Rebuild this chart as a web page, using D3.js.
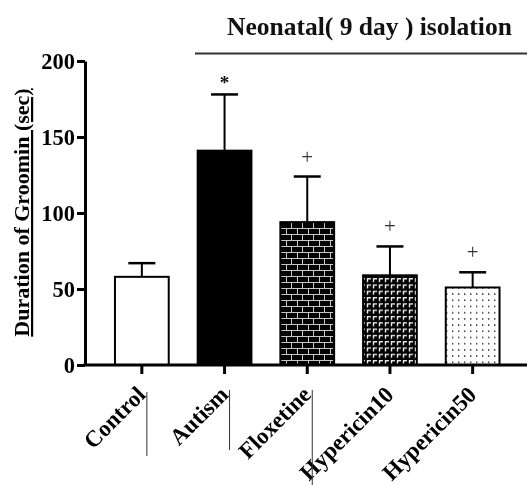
<!DOCTYPE html>
<html>
<head>
<meta charset="utf-8">
<script src="https://cdn.jsdelivr.net/npm/d3@7"></script>
<style>
  html, body { margin: 0; padding: 0; background: #fff; }
  svg { display: block; filter: grayscale(100%); }
  text { font-family: "Liberation Serif", "Times New Roman", serif; }
</style>
</head>
<body>
<svg id="chart" width="532" height="485"></svg>
<script>
// ---- data ----
const categories = ["Control", "Autism", "Floxetine", "Hypericin10", "Hypericin50"];
const means = [58, 141, 94, 59, 51];
const errors = [9, 37, 30, 19, 10];
const marks = ["", "*", "+", "+", "+"];
const patterns = ["none", "solid", "brick", "angle", "dots"];
const yTicks = [0, 50, 100, 150, 200];
const titleText = "Neonatal( 9 day ) isolation";
const yTitle = "Duration of Groomin (sec)";

const W = 532, H = 485;
const svg = d3.select("#chart");

const y = d3.scaleLinear().domain([0, 200]).range([365, 61]);
const x = d3.scaleBand().domain(categories).range([100.5, 514])
  .paddingInner(0.35).paddingOuter(0.175);
const axisX0 = 85, axisX1 = 527;

// ---- patterns ----
const defs = svg.append("defs");
const brick = defs.append("pattern").attr("id", "p-brick")
  .attr("patternUnits", "userSpaceOnUse").attr("width", 22).attr("height", 12);
brick.append("rect").attr("width", 22).attr("height", 12).attr("fill", "#000");
brick.append("path")
  .attr("d", "M0,0.5H22M0,6.5H22M0.5,0V6.5M11.5,0V6.5M5.5,6.5V12M16.5,6.5V12")
  .attr("stroke", "#c8c8c8").attr("stroke-width", 1).attr("fill", "none");

const angle = defs.append("pattern").attr("id", "p-angle")
  .attr("patternUnits", "userSpaceOnUse").attr("width", 6).attr("height", 6.3);
angle.append("rect").attr("width", 6).attr("height", 6.3).attr("fill", "#000");
angle.append("path").attr("d", "M1.5,5V1.5H5")
  .attr("stroke", "#eeeeee").attr("stroke-width", 1.4).attr("fill", "none");

const dots = defs.append("pattern").attr("id", "p-dots")
  .attr("patternUnits", "userSpaceOnUse").attr("width", 6).attr("height", 6.2);
dots.append("rect").attr("width", 6).attr("height", 6.2).attr("fill", "#fff");
dots.append("rect").attr("x", 2).attr("y", 2).attr("width", 1.4).attr("height", 1.4).attr("fill", "#222");

const fillFor = p => p === "solid" ? "#000" : p === "brick" ? "url(#p-brick)"
  : p === "angle" ? "url(#p-angle)" : p === "dots" ? "url(#p-dots)" : "#fff";

// ---- title ----
svg.append("text").attr("x", 369.5).attr("y", 35).attr("text-anchor", "middle")
  .attr("font-size", 25.5).attr("font-weight", "bold").attr("fill", "#111")
  .text(titleText);
svg.append("line").attr("x1", 195).attr("x2", 527).attr("y1", 53.5).attr("y2", 53.5)
  .attr("stroke", "#333").attr("stroke-width", 2);

// ---- bars ----
const data = categories.map((c, i) => ({ c, m: means[i], e: errors[i], mark: marks[i], p: patterns[i] }));

svg.append("g").selectAll("rect").data(data).join("rect")
  .attr("x", d => x(d.c)).attr("width", x.bandwidth())
  .attr("y", d => y(d.m)).attr("height", d => y(0) - y(d.m))
  .attr("fill", d => fillFor(d.p))
  .attr("stroke", "#000").attr("stroke-width", 2);

// error bars
const eb = svg.append("g").attr("stroke", "#000");
eb.selectAll("line.v").data(data).join("line").attr("class", "v")
  .attr("x1", d => x(d.c) + x.bandwidth() / 2).attr("x2", d => x(d.c) + x.bandwidth() / 2)
  .attr("y1", d => y(d.m)).attr("y2", d => y(d.m + d.e)).attr("stroke-width", 2);
eb.selectAll("line.cap").data(data).join("line").attr("class", "cap")
  .attr("x1", d => x(d.c) + x.bandwidth() / 2 - 13.5).attr("x2", d => x(d.c) + x.bandwidth() / 2 + 13.5)
  .attr("y1", d => y(d.m + d.e)).attr("y2", d => y(d.m + d.e)).attr("stroke-width", 2.5);

// significance marks
svg.append("g").selectAll("text").data(data.filter(d => d.mark)).join("text")
  .attr("x", d => x(d.c) + x.bandwidth() / 2)
  .attr("y", d => y(d.m + d.e) - (d.mark === "*" ? 5 : 13))
  .attr("text-anchor", "middle")
  .attr("font-size", d => d.mark === "*" ? 19 : 21)
  .attr("font-weight", d => d.mark === "*" ? "bold" : "normal")
  .attr("fill", d => d.mark === "*" ? "#111" : "#333")
  .text(d => d.mark);

// ---- y axis ----
const yAxis = svg.append("g").attr("transform", `translate(${axisX0},0)`)
  .call(d3.axisLeft(y).tickValues(yTicks).tickSize(8).tickSizeOuter(0).tickPadding(2));
yAxis.select(".domain").attr("stroke", "#000").attr("stroke-width", 3);
yAxis.selectAll(".tick line").attr("stroke", "#000").attr("stroke-width", 3);
yAxis.selectAll(".tick text").attr("font-size", 22.5).attr("font-weight", "bold")
  .attr("fill", "#000").attr("font-family", "'Liberation Serif', 'Times New Roman', serif");

// ---- x axis ----
const xAxis = svg.append("g").attr("transform", `translate(0,${y(0)})`)
  .call(d3.axisBottom(x).tickSize(9).tickSizeOuter(0).tickFormat(""));
xAxis.select(".domain").remove();
xAxis.selectAll(".tick line").attr("stroke", "#000").attr("stroke-width", 3);
svg.append("line").attr("x1", axisX0 - 1.5).attr("x2", axisX1).attr("y1", y(0)).attr("y2", y(0))
  .attr("stroke", "#000").attr("stroke-width", 3);

// rotated category labels
svg.append("g").selectAll("text").data(categories).join("text")
  .attr("transform", c => `translate(${x(c) + x.bandwidth() / 2 + 5},396) rotate(-45)`)
  .attr("text-anchor", "end")
  .attr("font-size", 23).attr("font-weight", "bold").attr("fill", "#000")
  .text(c => c);

// stray thin vertical lines beside labels (present in reference)
const strayLines = [
  { c: "Control", y1: 392, y2: 456 },
  { c: "Autism", y1: 390, y2: 450 },
  { c: "Floxetine", y1: 390, y2: 485 }
];
svg.append("g").selectAll("line").data(strayLines).join("line")
  .attr("x1", d => x(d.c) + x.bandwidth() / 2 + 5).attr("x2", d => x(d.c) + x.bandwidth() / 2 + 5)
  .attr("y1", d => d.y1).attr("y2", d => d.y2)
  .attr("stroke", "#333").attr("stroke-width", 1);

// ---- y title ----
svg.append("text")
  .attr("transform", `translate(29,212.5) rotate(-90)`)
  .attr("text-anchor", "middle")
  .attr("font-size", 22).attr("font-weight", "bold").attr("fill", "#000")
  .attr("text-decoration", "underline")
  .text(yTitle);
</script>
</body>
</html>
